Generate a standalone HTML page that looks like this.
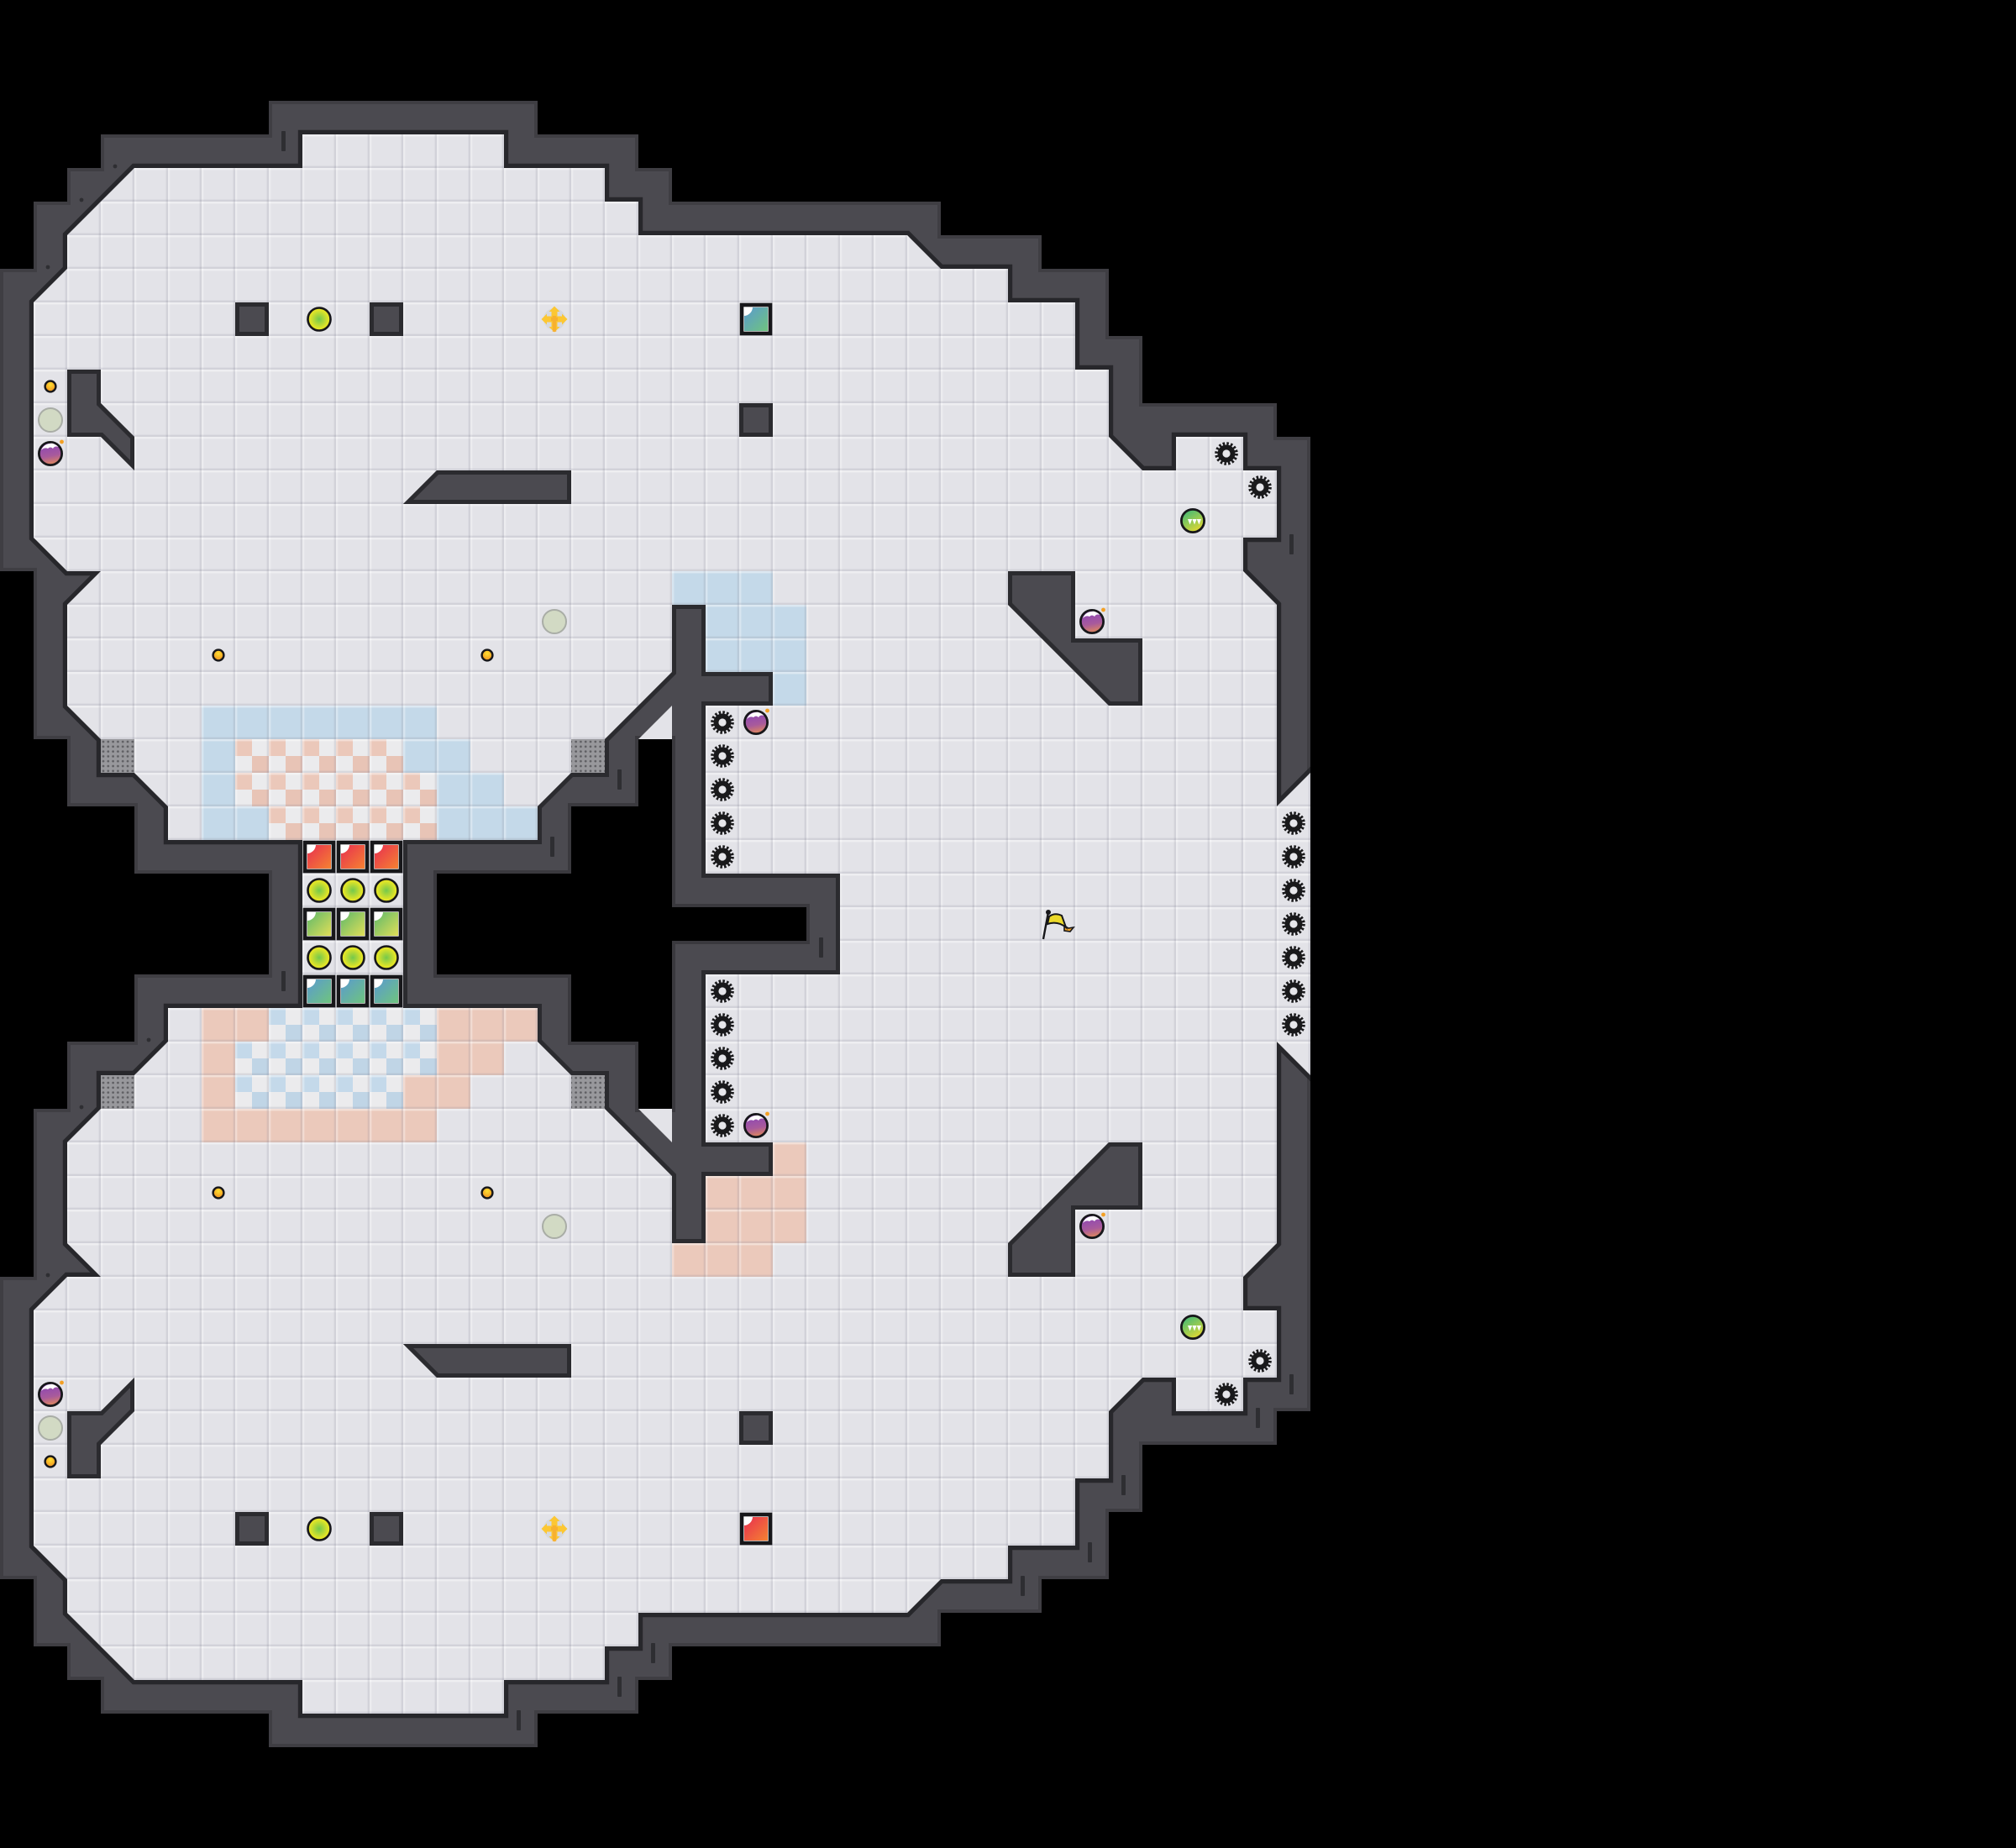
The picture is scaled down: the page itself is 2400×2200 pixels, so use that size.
<!DOCTYPE html>
<html><head><meta charset="utf-8"><title>Level map</title>
<style>html,body{margin:0;padding:0;background:#000}svg{display:block}</style></head>
<body>
<svg xmlns="http://www.w3.org/2000/svg" width="2400" height="2200" viewBox="0 0 2400 2200">
<defs>
<pattern id="grid" patternUnits="userSpaceOnUse" width="1" height="1">
<rect width="1" height=".06" fill="#fff" fill-opacity=".4"/>
<rect width=".06" height="1" fill="#fff" fill-opacity=".32"/>
<rect y=".94" width="1" height=".06" fill="#8a8a9a" fill-opacity=".2"/>
<rect x=".94" width=".06" height="1" fill="#8a8a9a" fill-opacity=".2"/>
</pattern>
<pattern id="chkP" patternUnits="userSpaceOnUse" width="1" height="1">
<rect width="1" height="1" fill="#ebebed"/>
<rect width=".5" height=".5" fill="#ebc8ba"/>
<rect x=".5" y=".5" width=".5" height=".5" fill="#e8c4b6"/>
</pattern>
<pattern id="chkB" patternUnits="userSpaceOnUse" width="1" height="1">
<rect width="1" height="1" fill="#ebebed"/>
<rect width=".5" height=".5" fill="#c4d9ea"/>
<rect x=".5" y=".5" width=".5" height=".5" fill="#c0d5e6"/>
</pattern>
<pattern id="dots" patternUnits="userSpaceOnUse" x="120" y="880" width="5.8" height="5.8">
<rect width="5.8" height="5.8" fill="#98989c"/>
<circle cx="3" cy="3" r="1.35" fill="#5e5e62"/>
</pattern>
<path id="sil" d="M8 3L16 3L16 4L19 4L19 5L20 5L20 6L28 6L28 7L31 7L31 8L33 8L33 10L34 10L34 12L38 12L38 13L39 13L39 42L38 42L38 43L34 43L34 45L33 45L33 47L31 47L31 48L28 48L28 49L20 49L20 50L19 50L19 51L16 51L16 52L8 52L8 51L3 51L3 50L2 50L2 49L1 49L1 47L0 47L0 38L1 38L1 33L2 33L2 31L4 31L4 29L8 29L8 26L4 26L4 24L2 24L2 22L1 22L1 17L0 17L0 8L1 8L1 6L2 6L2 5L3 5L3 4L8 4Z"/>
<path id="flr" d="M9 4L15 4L15 5L18 5L18 6L19 6L19 7L27 7L28 8L30 8L30 9L32 9L32 11L33 11L33 13L34 14L35 14L35 13L37 13L37 14L38 14L38 16L37 16L37 17L38 18L38 24L39 23L39 32L38 31L38 37L37 38L37 39L38 39L38 41L37 41L37 42L35 42L35 41L34 41L33 42L33 44L32 44L32 46L30 46L30 47L28 47L27 48L19 48L19 49L18 49L18 50L15 50L15 51L9 51L9 50L4 50L2 48L2 47L1 46L1 39L2 38L3 38L2 37L2 34L3 33L3 32L4 32L5 31L5 30L9 30L9 25L5 25L5 24L4 23L3 23L3 22L2 21L2 18L3 17L2 17L1 16L1 9L2 8L2 7L4 5L9 5Z"/>
<path id="obs" d="M20 18L21 18L21 20L23 20L23 21L21 21L21 26L25 26L25 29L21 29L21 34L23 34L23 35L21 35L21 37L20 37L20 35L18 33L18 32L17 32L16 31L16 30L12 30L12 25L16 25L16 24L17 23L18 23L18 22L20 20Z
M7 9h1v1h-1zM11 9h1v1h-1zM22 12h1v1h-1zM7 45h1v1h-1zM11 45h1v1h-1zM22 42h1v1h-1z
M2 11L3 11L3 12L4 13L4 14L3 13L2 13Z M2 44L3 44L3 43L4 42L4 41L3 42L2 42Z
M12 15L13 14L17 14L17 15Z M12 40L13 41L17 41L17 40Z
M30 17L32 17L32 19L34 19L34 21L33 21L30 18Z M30 38L32 38L32 36L34 36L34 34L33 34L30 37Z"/>
<path id="hole" d="M13 26L17 26L17 24L19 24L19 22L20 22L20 27L24 27L24 28L20 28L20 33L19 33L19 31L17 31L17 29L13 29Z"/>
<clipPath id="cSil"><use href="#sil"/></clipPath>
<clipPath id="cObs"><use href="#obs"/></clipPath>

<linearGradient id="gRed" x1="0" y1="0" x2="1" y2="1"><stop offset="0" stop-color="#e82e50"/><stop offset="1" stop-color="#f58232"/></linearGradient>
<linearGradient id="gGreen" x1="0" y1="0" x2="1" y2="1"><stop offset="0" stop-color="#5fb96a"/><stop offset="1" stop-color="#e0de58"/></linearGradient>
<linearGradient id="gTeal" x1="0" y1="0" x2="1" y2="1"><stop offset="0" stop-color="#5a9ad0"/><stop offset="1" stop-color="#6fc47e"/></linearGradient>
<radialGradient id="gLime"><stop offset="0" stop-color="#74c84c"/><stop offset=".8" stop-color="#e0e428"/><stop offset="1" stop-color="#ece820"/></radialGradient>
<radialGradient id="gDot" cx=".5" cy=".35"><stop offset="0" stop-color="#ffe030"/><stop offset="1" stop-color="#f3a024"/></radialGradient>
<linearGradient id="gBomb" x1=".4" y1="0" x2=".6" y2="1"><stop offset="0" stop-color="#8a45b8"/><stop offset=".6" stop-color="#a85a9c"/><stop offset="1" stop-color="#e28a58"/></linearGradient>
<linearGradient id="gBall" x1=".2" y1="0" x2=".8" y2="1"><stop offset="0" stop-color="#3fb878"/><stop offset=".55" stop-color="#9ccc50"/><stop offset="1" stop-color="#ecd82c"/></linearGradient>

<g id="block"><rect x="3" y="3" width="34" height="34" fill="#f4f4f4" stroke="#17171a" stroke-width="4.6"/></g>
<g id="bRed"><use href="#block"/><rect x="6" y="6" width="28" height="28" fill="url(#gRed)"/><path d="M5.5 5.5h10.5a10.5 10.5 0 0 1-10.5 10.5z" fill="#fff"/></g>
<g id="bGreen"><use href="#block"/><rect x="6" y="6" width="28" height="28" fill="url(#gGreen)"/><path d="M5.5 5.5h10.5a10.5 10.5 0 0 1-10.5 10.5z" fill="#fff"/></g>
<g id="bTeal"><use href="#block"/><rect x="6" y="6" width="28" height="28" fill="url(#gTeal)"/><path d="M5.5 5.5h10.5a10.5 10.5 0 0 1-10.5 10.5z" fill="#fff"/></g>
<g id="lime"><circle r="13.5" fill="url(#gLime)" stroke="#17171a" stroke-width="2.6"/></g>
<g id="dot"><circle r="6.4" fill="url(#gDot)" stroke="#17171a" stroke-width="2.4"/></g>
<g id="sage"><circle r="14" fill="#d2dac4" stroke="#a9ada6" stroke-width="2"/></g>
<g id="bomb">
<circle r="13.6" fill="url(#gBomb)" stroke="#17171a" stroke-width="2.8"/>
<path d="M-11-4Q-8-12 2-12.3Q7-11 9.5-8Q5-9.5 3-6Q0-9-3-6Q-7-8-11-4Z" fill="#fff"/>
<circle cx="13.5" cy="-14" r="2.4" fill="#f3a024"/>
</g>
<g id="gear">
<circle r="10.5" fill="#19191b"/>
<circle r="12" fill="none" stroke="#19191b" stroke-width="3.6" stroke-dasharray="2.5 2.21"/>
<circle r="4.6" fill="#e6e6ea"/>
</g>
<g id="ball">
<circle r="13.6" fill="url(#gBall)" stroke="#17171a" stroke-width="2.8"/>
<path d="M-6-2h5.2l-2.6 6.5zM-.6-2h5.2l-2.6 6.5zM4.8-2h5.2l-2.6 6.5z" fill="#fff"/>
</g>
<g id="cross">
<circle r="13" fill="#d6d9df"/>
<path d="M-11 0H11M0-11V11" stroke="#fcc733" stroke-width="7"/>
<path d="M-15.5 0L-9-6.5V6.5ZM15.5 0L9-6.5V6.5ZM0-15.5L-6.5-9H6.5ZM0 15.5L-6.5 9H6.5Z" fill="#fcc733"/>
<path d="M0-4V15M-4 0H4" stroke="#f6a92e" stroke-width="4.5" opacity=".7"/>
</g>
</defs>

<rect width="2400" height="2200" fill="#000"/>

<g transform="scale(40)">
<use href="#sil" fill="#4b4a50"/>
<g clip-path="url(#cSil)"><use href="#sil" fill="none" stroke="#3f3e43" stroke-width=".2"/></g>
<g clip-path="url(#cSil)"><use href="#flr" fill="none" stroke="#27272b" stroke-width=".26"/></g>
<use href="#flr" fill="#e3e3e8"/>

<g fill="#c4d9e9">
<rect x="20" y="17" width="3" height="1"/>
<rect x="21" y="18" width="3" height="2"/>
<rect x="23" y="20" width="1" height="1"/>
<rect x="6" y="21" width="7" height="1"/>
<rect x="6" y="22" width="1" height="2"/>
<rect x="6" y="24" width="2" height="1"/>
<rect x="12" y="22" width="2" height="1"/>
<rect x="13" y="23" width="2" height="1"/>
<rect x="13" y="24" width="3" height="1"/>
</g>
<g fill="url(#chkP)">
<rect x="7" y="22" width="5" height="1"/>
<rect x="7" y="23" width="6" height="1"/>
<rect x="8" y="24" width="5" height="1"/>
</g>
<g fill="#ebc9bb">
<rect x="20" y="37" width="3" height="1"/>
<rect x="21" y="35" width="3" height="2"/>
<rect x="23" y="34" width="1" height="1"/>
<rect x="6" y="33" width="7" height="1"/>
<rect x="6" y="31" width="1" height="2"/>
<rect x="6" y="30" width="2" height="1"/>
<rect x="12" y="32" width="2" height="1"/>
<rect x="13" y="31" width="2" height="1"/>
<rect x="13" y="30" width="3" height="1"/>
</g>
<g fill="url(#chkB)">
<rect x="8" y="30" width="5" height="1"/>
<rect x="7" y="31" width="6" height="1"/>
<rect x="7" y="32" width="5" height="1"/>
</g>
<use href="#flr" fill="url(#grid)"/>

<use href="#obs" fill="#4b4a50"/>
<g clip-path="url(#cObs)"><use href="#obs" fill="none" stroke="#2b2b2f" stroke-width=".25"/></g>
<use href="#hole" fill="#000" stroke="#3a393e" stroke-width=".2"/>
<use href="#hole" fill="#000"/>
<path d="M19 22L20 21L20 22Z" fill="#e3e3e8"/>
<path d="M19 33L20 34L20 33Z" fill="#e3e3e8"/>
</g>

<g fill="#2e2e32">
<rect x="335" y="156" width="5" height="24" rx="1"/>
<rect x="1535" y="636" width="5" height="24" rx="1"/>
<rect x="735" y="916" width="5" height="24" rx="1"/>
<rect x="655" y="996" width="5" height="24" rx="1"/>
<rect x="975" y="1116" width="5" height="24" rx="1"/>
<rect x="335" y="1156" width="5" height="24" rx="1"/>
<rect x="1535" y="1636" width="5" height="24" rx="1"/>
<rect x="1495" y="1676" width="5" height="24" rx="1"/>
<rect x="1335" y="1756" width="5" height="24" rx="1"/>
<rect x="1295" y="1836" width="5" height="24" rx="1"/>
<rect x="1215" y="1876" width="5" height="24" rx="1"/>
<rect x="775" y="1956" width="5" height="24" rx="1"/>
<rect x="735" y="1996" width="5" height="24" rx="1"/>
<rect x="615" y="2036" width="5" height="24" rx="1"/>
<circle cx="137" cy="198" r="2.4"/><circle cx="97" cy="238" r="2.4"/><circle cx="57" cy="318" r="2.4"/>
<circle cx="177" cy="1238" r="2.4"/><circle cx="97" cy="1318" r="2.4"/><circle cx="57" cy="1518" r="2.4"/>
</g>

<g>
<rect x="120" y="880" width="40" height="40" fill="url(#dots)"/>
<rect x="680" y="880" width="40" height="40" fill="url(#dots)"/>
<rect x="120" y="1280" width="40" height="40" fill="url(#dots)"/>
<rect x="680" y="1280" width="40" height="40" fill="url(#dots)"/>
</g>

<use href="#bRed" x="360" y="1000"/><use href="#bRed" x="400" y="1000"/><use href="#bRed" x="440" y="1000"/>
<use href="#bGreen" x="360" y="1080"/><use href="#bGreen" x="400" y="1080"/><use href="#bGreen" x="440" y="1080"/>
<use href="#bTeal" x="360" y="1160"/><use href="#bTeal" x="400" y="1160"/><use href="#bTeal" x="440" y="1160"/>
<use href="#bTeal" x="880" y="360"/>
<use href="#bRed" x="880" y="1800"/>

<use href="#lime" x="380" y="1060"/><use href="#lime" x="420" y="1060"/><use href="#lime" x="460" y="1060"/>
<use href="#lime" x="380" y="1140"/><use href="#lime" x="420" y="1140"/><use href="#lime" x="460" y="1140"/>
<use href="#lime" x="380" y="380"/><use href="#lime" x="380" y="1820"/>

<use href="#cross" x="660" y="380"/><use href="#cross" x="660" y="1820"/>

<use href="#dot" x="60" y="460"/><use href="#dot" x="260" y="780"/><use href="#dot" x="580" y="780"/>
<use href="#dot" x="60" y="1740"/><use href="#dot" x="260" y="1420"/><use href="#dot" x="580" y="1420"/>

<use href="#sage" x="60" y="500"/><use href="#sage" x="660" y="740"/><use href="#sage" x="660" y="1460"/><use href="#sage" x="60" y="1700"/>

<use href="#bomb" x="60" y="540"/><use href="#bomb" x="1300" y="740"/><use href="#bomb" x="900" y="860"/>
<use href="#bomb" x="900" y="1340"/><use href="#bomb" x="1300" y="1460"/><use href="#bomb" x="60" y="1660"/>

<use href="#ball" x="1420" y="620"/><use href="#ball" x="1420" y="1580"/>

<use href="#gear" x="860" y="860"/><use href="#gear" x="860" y="900"/><use href="#gear" x="860" y="940"/><use href="#gear" x="860" y="980"/><use href="#gear" x="860" y="1020"/>
<use href="#gear" x="860" y="1180"/><use href="#gear" x="860" y="1220"/><use href="#gear" x="860" y="1260"/><use href="#gear" x="860" y="1300"/><use href="#gear" x="860" y="1340"/>
<use href="#gear" x="1540" y="980"/><use href="#gear" x="1540" y="1020"/><use href="#gear" x="1540" y="1060"/><use href="#gear" x="1540" y="1100"/><use href="#gear" x="1540" y="1140"/><use href="#gear" x="1540" y="1180"/><use href="#gear" x="1540" y="1220"/>
<use href="#gear" x="1460" y="540"/><use href="#gear" x="1500" y="580"/><use href="#gear" x="1460" y="1660"/><use href="#gear" x="1500" y="1620"/>

<g>
<path d="M1248 1086L1242 1118" stroke="#17171a" stroke-width="2.4" fill="none"/>
<circle cx="1248" cy="1086" r="3" fill="#17171a"/>
<path d="M1267 1102L1272 1105L1278 1104L1274 1109L1267 1108Z" fill="#f2a324" stroke="#17171a" stroke-width="1.6"/>
<path d="M1249 1091Q1256 1086 1264 1090L1269 1104Q1259 1096 1247 1100Z" fill="#ecd92a" stroke="#17171a" stroke-width="2"/>
</g>
</svg>
</body></html>
